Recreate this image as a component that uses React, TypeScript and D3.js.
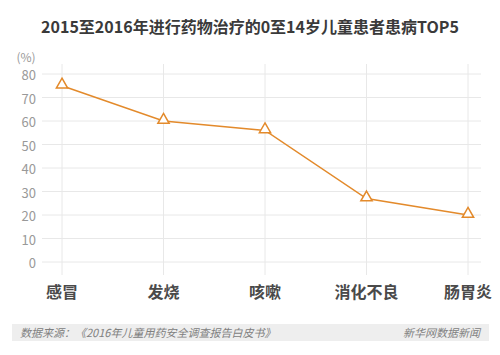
import React from "react";
import * as d3 from "d3";

const categories = ["感冒", "发烧", "咳嗽", "消化不良", "肠胃炎"];
const values = [75, 60, 56, 27, 20];
const yTicks = [0, 10, 20, 30, 40, 50, 60, 70, 80];
const title = "2015至2016年进行药物治疗的0至14岁儿童患者患病TOP5";
const sourceText = "数据来源：《2016年儿童用药安全调查报告白皮书》";
const creditText = "新华网数据新闻";

export default function App() {
  const W = 500, H = 355;
  const x = d3.scalePoint<string>().domain(categories).range([62, 468]);
  const y = d3.scaleLinear().domain([0, 80]).range([262, 74]);
  const line = d3.line<number>().x((_, i) => x(categories[i])!).y((d) => y(d));
  const font = "'Noto Sans CJK SC', 'Noto Sans', sans-serif";
  const orange = "#E38A2B";
  const tri = d3.symbol().type(d3.symbolTriangle).size(55)();
  return (
    <svg width={W} height={H} style={{ position: "absolute", left: 0, top: 0, background: "#fff" }} fontFamily={font}>
      <text x={250} y={33} textAnchor="middle" fontSize={16} fontWeight="bold" fill="#3a3a3a">{title}</text>
      <text x={26} y={62} textAnchor="middle" fontSize={12} fill="#999">(%)</text>
      {yTicks.map((t) => (
        <g key={t}>
          <line x1={42} x2={481} y1={y(t)} y2={y(t)} stroke="#e8e8e8" strokeWidth={1} />
          <text x={36} y={y(t) + 6} textAnchor="end" fontSize={13} fill="#999">{t}</text>
        </g>
      ))}
      {categories.map((c) => (
        <g key={c}>
          <line x1={x(c)} x2={x(c)} y1={64} y2={275} stroke="#e8e8e8" strokeWidth={1} />
          <text x={x(c)} y={298} textAnchor="middle" fontSize={16} fontWeight="bold" fill="#4a4a4a">{c}</text>
        </g>
      ))}
      <path d={line(values)!} fill="none" stroke={orange} strokeWidth={1.5} />
      {values.map((v, i) => (
        <path key={i} d={tri!} transform={`translate(${x(categories[i])},${y(v) - 1})`} fill="#fff" stroke={orange} strokeWidth={1.5} />
      ))}
      <rect x={12} y={324} width={477} height={17} fill="#eeeeee" />
      <text x={20} y={336.5} fontSize={11} fontStyle="italic" fill="#808080">{sourceText}</text>
      <text x={480} y={336.5} textAnchor="end" fontSize={11} fontStyle="italic" fill="#808080">{creditText}</text>
    </svg>
  );
}
